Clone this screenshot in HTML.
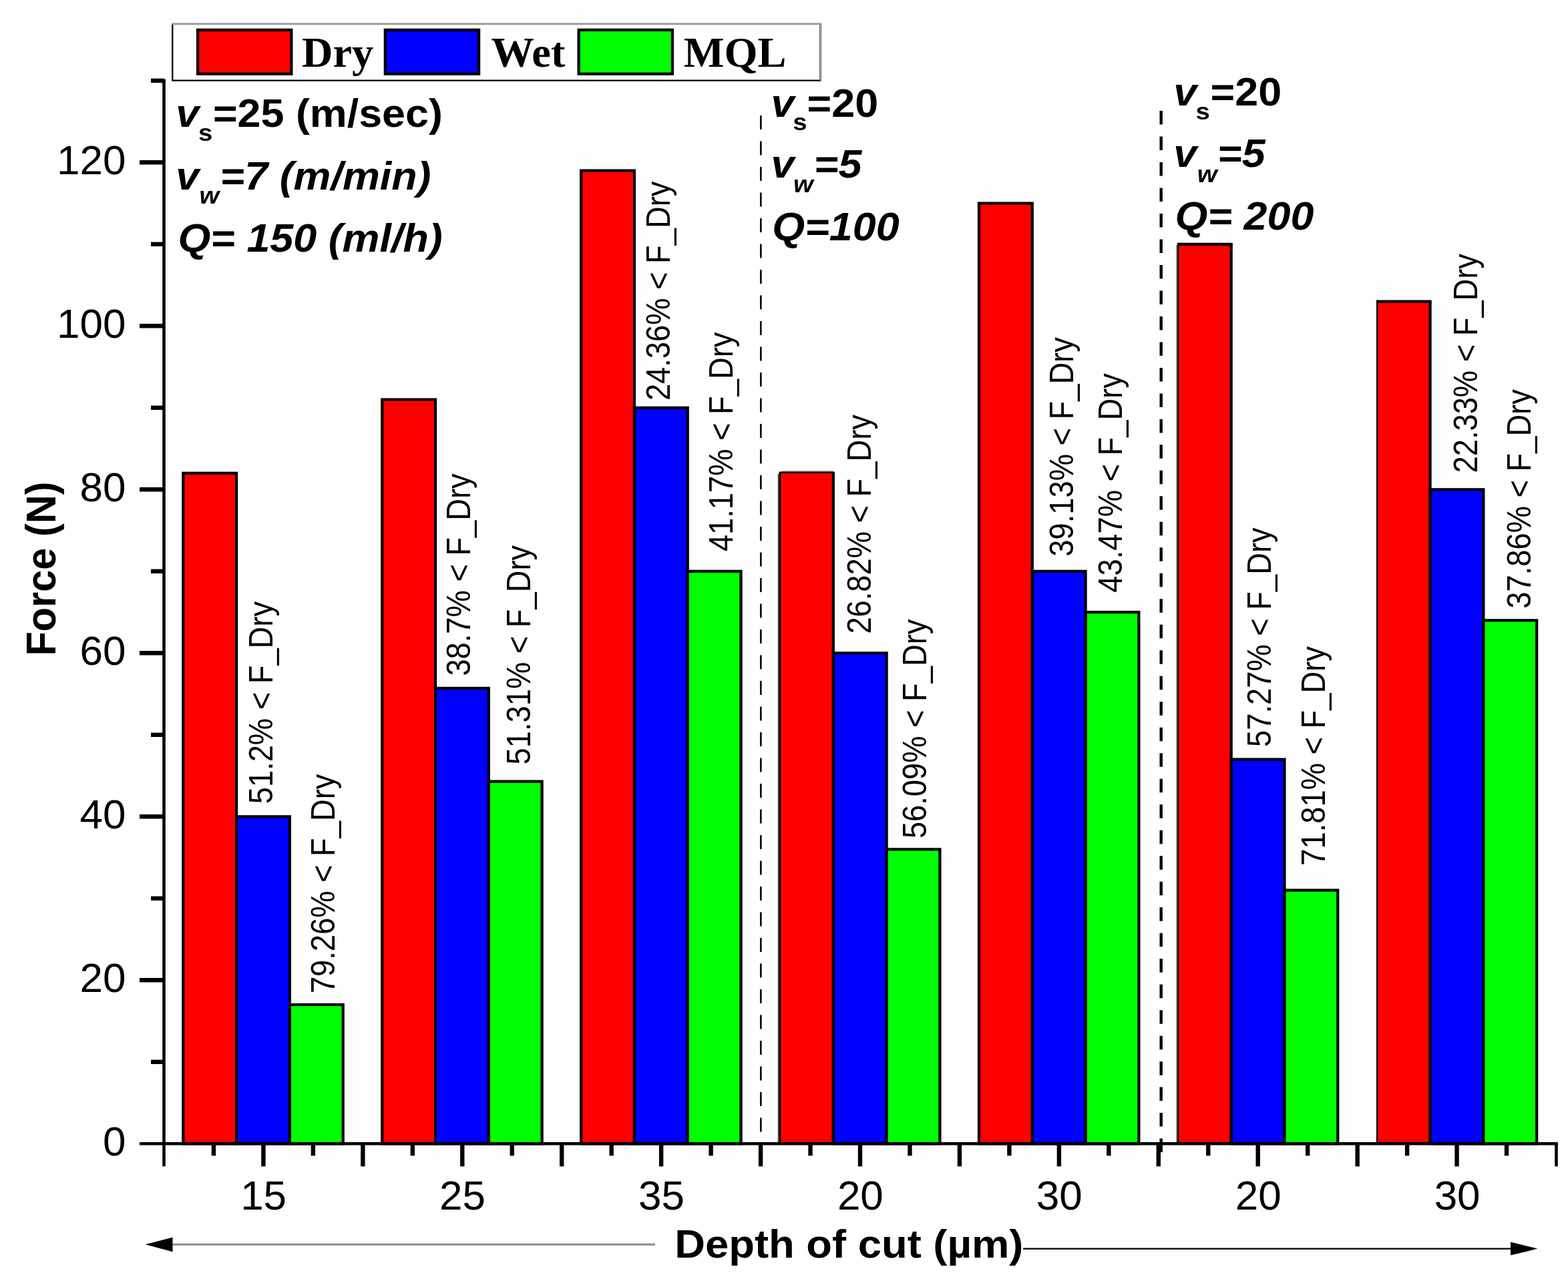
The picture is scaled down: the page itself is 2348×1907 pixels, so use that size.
<!DOCTYPE html>
<html lang="en">
<head>
<meta charset="utf-8">
<title>Force vs depth of cut: Dry, Wet, MQL</title>
<style>
html,body{margin:0;padding:0;background:#fefefe;}
body{width:2348px;height:1907px;overflow:hidden;}
svg text{white-space:pre;}
</style>
</head>
<body>
<svg width="2348" height="1907" viewBox="0 0 2348 1907" style="display:block">
<rect x="0" y="0" width="2348" height="1907" fill="#fefefe"/>
<rect x="274.30" y="708.80" width="79.80" height="1004.50" fill="#ff0000" stroke="#000" stroke-width="4.20"/>
<rect x="354.10" y="1223.30" width="79.80" height="490.00" fill="#0000ff" stroke="#000" stroke-width="4.20"/>
<rect x="433.90" y="1505.05" width="79.80" height="208.25" fill="#00ff00" stroke="#000" stroke-width="4.20"/>
<rect x="572.22" y="598.55" width="79.80" height="1114.75" fill="#ff0000" stroke="#000" stroke-width="4.20"/>
<rect x="652.02" y="1030.97" width="79.80" height="682.33" fill="#0000ff" stroke="#000" stroke-width="4.20"/>
<rect x="731.82" y="1170.62" width="79.80" height="542.67" fill="#00ff00" stroke="#000" stroke-width="4.20"/>
<rect x="870.13" y="255.55" width="79.80" height="1457.75" fill="#ff0000" stroke="#000" stroke-width="4.20"/>
<rect x="949.93" y="610.80" width="79.80" height="1102.50" fill="#0000ff" stroke="#000" stroke-width="4.20"/>
<rect x="1029.73" y="855.80" width="79.80" height="857.50" fill="#00ff00" stroke="#000" stroke-width="4.20"/>
<rect x="1168.00" y="708.80" width="79.85" height="1004.50" fill="#ff0000"/>
<line x1="1165.80" y1="709.80" x2="1165.80" y2="1713.30" stroke="#3a3a44" stroke-width="2"/>
<line x1="1168.00" y1="706.70" x2="1168.00" y2="1713.30" stroke="#000" stroke-width="2.60"/>
<line x1="1170.00" y1="706.20" x2="1247.85" y2="706.20" stroke="#8a8a8a" stroke-width="1.8"/>
<line x1="1166.70" y1="707.90" x2="1249.95" y2="707.90" stroke="#000" stroke-width="2.40"/>
<line x1="1247.85" y1="708.80" x2="1247.85" y2="1713.30" stroke="#000" stroke-width="4.20"/>
<rect x="1247.85" y="978.30" width="79.80" height="735.00" fill="#0000ff" stroke="#000" stroke-width="4.20"/>
<rect x="1327.65" y="1272.30" width="79.80" height="441.00" fill="#00ff00" stroke="#000" stroke-width="4.20"/>
<rect x="1465.97" y="304.55" width="79.80" height="1408.75" fill="#ff0000" stroke="#000" stroke-width="4.20"/>
<rect x="1545.77" y="855.80" width="79.80" height="857.50" fill="#0000ff" stroke="#000" stroke-width="4.20"/>
<rect x="1625.57" y="917.05" width="79.80" height="796.25" fill="#00ff00" stroke="#000" stroke-width="4.20"/>
<rect x="1764.10" y="365.80" width="79.58" height="1347.50" fill="#ff0000"/>
<line x1="1762.05" y1="366.80" x2="1762.05" y2="1713.30" stroke="#8a8a8a" stroke-width="2"/>
<line x1="1764.10" y1="363.70" x2="1764.10" y2="1713.30" stroke="#000" stroke-width="2.30"/>
<line x1="1762.95" y1="365.80" x2="1845.78" y2="365.80" stroke="#000" stroke-width="4.20"/>
<line x1="1843.68" y1="365.80" x2="1843.68" y2="1713.30" stroke="#000" stroke-width="4.20"/>
<rect x="1843.68" y="1137.55" width="79.80" height="575.75" fill="#0000ff" stroke="#000" stroke-width="4.20"/>
<rect x="1923.48" y="1333.55" width="79.80" height="379.75" fill="#00ff00" stroke="#000" stroke-width="4.20"/>
<rect x="2062.20" y="451.55" width="79.40" height="1261.75" fill="#ff0000"/>
<line x1="2062.20" y1="449.45" x2="2062.20" y2="1713.30" stroke="#000" stroke-width="2.40"/>
<line x1="2061.00" y1="451.55" x2="2143.70" y2="451.55" stroke="#000" stroke-width="4.20"/>
<line x1="2141.60" y1="451.55" x2="2141.60" y2="1713.30" stroke="#000" stroke-width="4.20"/>
<rect x="2141.60" y="733.30" width="79.80" height="980.00" fill="#0000ff" stroke="#000" stroke-width="4.20"/>
<rect x="2221.40" y="929.30" width="79.80" height="784.00" fill="#00ff00" stroke="#000" stroke-width="4.20"/>
<line x1="1139.3" y1="173" x2="1139.3" y2="1713.3" stroke="#000" stroke-width="2.6" stroke-dasharray="21 17.5"/>
<line x1="1738.7" y1="166" x2="1738.7" y2="1738.3" stroke="#000" stroke-width="4.4" stroke-dasharray="20.5 17.99"/>
<g stroke="#000" stroke-width="4.60" fill="none">
<line x1="245.50" y1="118.50" x2="245.50" y2="1747.30"/>
<line x1="209.00" y1="1713.30" x2="2332.80" y2="1713.30"/>
<line x1="226.00" y1="1590.80" x2="245.50" y2="1590.80" stroke-width="6.40"/>
<line x1="209.00" y1="1468.30" x2="245.50" y2="1468.30" stroke-width="6.40"/>
<line x1="226.00" y1="1345.80" x2="245.50" y2="1345.80" stroke-width="6.40"/>
<line x1="209.00" y1="1223.30" x2="245.50" y2="1223.30" stroke-width="6.40"/>
<line x1="226.00" y1="1100.80" x2="245.50" y2="1100.80" stroke-width="6.40"/>
<line x1="209.00" y1="978.30" x2="245.50" y2="978.30" stroke-width="6.40"/>
<line x1="226.00" y1="855.80" x2="245.50" y2="855.80" stroke-width="6.40"/>
<line x1="209.00" y1="733.30" x2="245.50" y2="733.30" stroke-width="6.40"/>
<line x1="226.00" y1="610.80" x2="245.50" y2="610.80" stroke-width="6.40"/>
<line x1="209.00" y1="488.30" x2="245.50" y2="488.30" stroke-width="6.40"/>
<line x1="226.00" y1="365.80" x2="245.50" y2="365.80" stroke-width="6.40"/>
<line x1="209.00" y1="243.30" x2="245.50" y2="243.30" stroke-width="6.40"/>
<line x1="226.00" y1="120.80" x2="245.50" y2="120.80" stroke-width="6.40"/>
<line x1="319.96" y1="1713.30" x2="319.96" y2="1731.30" stroke-width="6.40"/>
<line x1="394.43" y1="1713.30" x2="394.43" y2="1747.30" stroke-width="6.40"/>
<line x1="468.89" y1="1713.30" x2="468.89" y2="1731.30" stroke-width="6.40"/>
<line x1="543.36" y1="1713.30" x2="543.36" y2="1747.30" stroke-width="6.40"/>
<line x1="617.82" y1="1713.30" x2="617.82" y2="1731.30" stroke-width="6.40"/>
<line x1="692.29" y1="1713.30" x2="692.29" y2="1747.30" stroke-width="6.40"/>
<line x1="766.75" y1="1713.30" x2="766.75" y2="1731.30" stroke-width="6.40"/>
<line x1="841.21" y1="1713.30" x2="841.21" y2="1747.30" stroke-width="6.40"/>
<line x1="915.68" y1="1713.30" x2="915.68" y2="1731.30" stroke-width="6.40"/>
<line x1="990.14" y1="1713.30" x2="990.14" y2="1747.30" stroke-width="6.40"/>
<line x1="1064.61" y1="1713.30" x2="1064.61" y2="1731.30" stroke-width="6.40"/>
<line x1="1139.07" y1="1713.30" x2="1139.07" y2="1747.30" stroke-width="6.40"/>
<line x1="1213.54" y1="1713.30" x2="1213.54" y2="1731.30" stroke-width="6.40"/>
<line x1="1288.00" y1="1713.30" x2="1288.00" y2="1747.30" stroke-width="6.40"/>
<line x1="1362.46" y1="1713.30" x2="1362.46" y2="1731.30" stroke-width="6.40"/>
<line x1="1436.93" y1="1713.30" x2="1436.93" y2="1747.30" stroke-width="6.40"/>
<line x1="1511.39" y1="1713.30" x2="1511.39" y2="1731.30" stroke-width="6.40"/>
<line x1="1585.86" y1="1713.30" x2="1585.86" y2="1747.30" stroke-width="6.40"/>
<line x1="1660.32" y1="1713.30" x2="1660.32" y2="1731.30" stroke-width="6.40"/>
<line x1="1734.79" y1="1713.30" x2="1734.79" y2="1747.30" stroke-width="6.40"/>
<line x1="1809.25" y1="1713.30" x2="1809.25" y2="1731.30" stroke-width="6.40"/>
<line x1="1883.71" y1="1713.30" x2="1883.71" y2="1747.30" stroke-width="6.40"/>
<line x1="1958.18" y1="1713.30" x2="1958.18" y2="1731.30" stroke-width="6.40"/>
<line x1="2032.64" y1="1713.30" x2="2032.64" y2="1747.30" stroke-width="6.40"/>
<line x1="2107.11" y1="1713.30" x2="2107.11" y2="1731.30" stroke-width="6.40"/>
<line x1="2181.57" y1="1713.30" x2="2181.57" y2="1747.30" stroke-width="6.40"/>
<line x1="2256.04" y1="1713.30" x2="2256.04" y2="1731.30" stroke-width="6.40"/>
<line x1="2330.50" y1="1713.30" x2="2330.50" y2="1747.30" stroke-width="4.60"/>
</g>
<text transform="translate(153.93,1730.50) scale(1.0000,1)" font-family="&quot;Liberation Sans&quot;, Arial, sans-serif" font-size="62.00" fill="#000">0</text>
<text transform="translate(119.46,1485.50) scale(1.0000,1)" font-family="&quot;Liberation Sans&quot;, Arial, sans-serif" font-size="62.00" fill="#000">20</text>
<text transform="translate(119.46,1240.50) scale(1.0000,1)" font-family="&quot;Liberation Sans&quot;, Arial, sans-serif" font-size="62.00" fill="#000">40</text>
<text transform="translate(119.46,995.50) scale(1.0000,1)" font-family="&quot;Liberation Sans&quot;, Arial, sans-serif" font-size="62.00" fill="#000">60</text>
<text transform="translate(119.46,750.50) scale(1.0000,1)" font-family="&quot;Liberation Sans&quot;, Arial, sans-serif" font-size="62.00" fill="#000">80</text>
<text transform="translate(84.98,505.50) scale(1.0000,1)" font-family="&quot;Liberation Sans&quot;, Arial, sans-serif" font-size="62.00" fill="#000">100</text>
<text transform="translate(84.98,260.50) scale(1.0000,1)" font-family="&quot;Liberation Sans&quot;, Arial, sans-serif" font-size="62.00" fill="#000">120</text>
<text transform="translate(360.13,1811.80) scale(1.0000,1)" font-family="&quot;Liberation Sans&quot;, Arial, sans-serif" font-size="62.00" fill="#000">15</text>
<text transform="translate(658.04,1811.80) scale(1.0000,1)" font-family="&quot;Liberation Sans&quot;, Arial, sans-serif" font-size="62.00" fill="#000">25</text>
<text transform="translate(955.96,1811.80) scale(1.0000,1)" font-family="&quot;Liberation Sans&quot;, Arial, sans-serif" font-size="62.00" fill="#000">35</text>
<text transform="translate(1253.88,1811.80) scale(1.0000,1)" font-family="&quot;Liberation Sans&quot;, Arial, sans-serif" font-size="62.00" fill="#000">20</text>
<text transform="translate(1551.79,1811.80) scale(1.0000,1)" font-family="&quot;Liberation Sans&quot;, Arial, sans-serif" font-size="62.00" fill="#000">30</text>
<text transform="translate(1849.71,1811.80) scale(1.0000,1)" font-family="&quot;Liberation Sans&quot;, Arial, sans-serif" font-size="62.00" fill="#000">20</text>
<text transform="translate(2147.63,1811.80) scale(1.0000,1)" font-family="&quot;Liberation Sans&quot;, Arial, sans-serif" font-size="62.00" fill="#000">30</text>
<text transform="translate(82.50,982.57) scale(1.0650,1) rotate(-90)" font-family="&quot;Liberation Sans&quot;, Arial, sans-serif" font-size="59.50" font-weight="bold" fill="#000">Force (N)</text>
<text transform="translate(1010.20,1883.60) scale(1.0650,1)" font-family="&quot;Liberation Sans&quot;, Arial, sans-serif" font-size="59.50" font-weight="bold" fill="#000">Depth of cut (µm)</text>
<line x1="255" y1="1864.3" x2="981" y2="1864.3" stroke="#8c8c8c" stroke-width="3"/>
<polygon points="217.5,1864.3 258.5,1853.5 258.5,1875.2" fill="#000"/>
<line x1="1532" y1="1870.6" x2="2265" y2="1870.6" stroke="#000" stroke-width="2.2"/>
<polygon points="2302.5,1870.6 2262,1860.6 2262,1880.6" fill="#000"/>
<rect x="258.3" y="36" width="970.2" height="84.6" fill="#fefefe" stroke="#000" stroke-width="2.2"/>
<path d="M257.2 35.8 H1229.2 V121" fill="none" stroke="#9a9a9a" stroke-width="2.6"/>
<rect x="296.10" y="44.80" width="140.30" height="65.90" fill="#ff0000" stroke="#000" stroke-width="4.2"/>
<rect x="576.80" y="44.80" width="140.30" height="65.90" fill="#0000ff" stroke="#000" stroke-width="4.2"/>
<rect x="866.60" y="44.80" width="140.30" height="65.90" fill="#00ff00" stroke="#000" stroke-width="4.2"/>
<text transform="translate(452.00,99.60) scale(1.0300,1)" font-family="&quot;Liberation Serif&quot;, &quot;Times New Roman&quot;, serif" font-size="62.50" font-weight="bold" fill="#000">Dry</text>
<text transform="translate(735.50,99.60) scale(1.0300,1)" font-family="&quot;Liberation Serif&quot;, &quot;Times New Roman&quot;, serif" font-size="62.50" font-weight="bold" fill="#000">Wet</text>
<text transform="translate(1023.70,99.60) scale(1.0300,1)" font-family="&quot;Liberation Serif&quot;, &quot;Times New Roman&quot;, serif" font-size="62.50" font-weight="bold" fill="#000">MQL</text>
<text transform="translate(263.30,190.40) scale(1.0650,1)" font-family="&quot;Liberation Sans&quot;, Arial, sans-serif" font-size="59.00" font-weight="bold" font-style="italic" fill="#000">v</text>
<text transform="translate(297.10,211.00) scale(1.0650,1)" font-family="&quot;Liberation Sans&quot;, Arial, sans-serif" font-size="36.00" font-weight="bold" fill="#000">s</text>
<text transform="translate(318.90,190.40) scale(1.0650,1)" font-family="&quot;Liberation Sans&quot;, Arial, sans-serif" font-size="59.00" font-weight="bold" fill="#000">=25 (m/sec)</text>
<text transform="translate(263.30,284.30) scale(1.0650,1)" font-family="&quot;Liberation Sans&quot;, Arial, sans-serif" font-size="59.00" font-weight="bold" font-style="italic" fill="#000">v</text>
<text transform="translate(298.60,304.70) scale(1.0650,1)" font-family="&quot;Liberation Sans&quot;, Arial, sans-serif" font-size="36.00" font-weight="bold" font-style="italic" fill="#000">w</text>
<text transform="translate(329.60,284.30) scale(1.0650,1)" font-family="&quot;Liberation Sans&quot;, Arial, sans-serif" font-size="59.00" font-weight="bold" font-style="italic" fill="#000">=7 (m/min)</text>
<text transform="translate(266.40,376.50) scale(1.0650,1)" font-family="&quot;Liberation Sans&quot;, Arial, sans-serif" font-size="59.00" font-weight="bold" font-style="italic" fill="#000">Q= 150 (ml/h)</text>
<text transform="translate(1154.60,174.50) scale(1.0650,1)" font-family="&quot;Liberation Sans&quot;, Arial, sans-serif" font-size="59.00" font-weight="bold" font-style="italic" fill="#000">v</text>
<text transform="translate(1187.20,194.80) scale(1.0650,1)" font-family="&quot;Liberation Sans&quot;, Arial, sans-serif" font-size="36.00" font-weight="bold" fill="#000">s</text>
<text transform="translate(1208.50,174.50) scale(1.0650,1)" font-family="&quot;Liberation Sans&quot;, Arial, sans-serif" font-size="59.00" font-weight="bold" fill="#000">=20</text>
<text transform="translate(1154.60,266.20) scale(1.0650,1)" font-family="&quot;Liberation Sans&quot;, Arial, sans-serif" font-size="59.00" font-weight="bold" font-style="italic" fill="#000">v</text>
<text transform="translate(1188.10,288.30) scale(1.0650,1)" font-family="&quot;Liberation Sans&quot;, Arial, sans-serif" font-size="36.00" font-weight="bold" font-style="italic" fill="#000">w</text>
<text transform="translate(1218.80,266.20) scale(1.0650,1)" font-family="&quot;Liberation Sans&quot;, Arial, sans-serif" font-size="59.00" font-weight="bold" font-style="italic" fill="#000">=5</text>
<text transform="translate(1156.30,359.70) scale(1.0650,1)" font-family="&quot;Liberation Sans&quot;, Arial, sans-serif" font-size="59.00" font-weight="bold" font-style="italic" fill="#000">Q=100</text>
<text transform="translate(1757.30,158.20) scale(1.0650,1)" font-family="&quot;Liberation Sans&quot;, Arial, sans-serif" font-size="59.00" font-weight="bold" font-style="italic" fill="#000">v</text>
<text transform="translate(1790.50,179.30) scale(1.0650,1)" font-family="&quot;Liberation Sans&quot;, Arial, sans-serif" font-size="36.00" font-weight="bold" fill="#000">s</text>
<text transform="translate(1812.50,158.20) scale(1.0650,1)" font-family="&quot;Liberation Sans&quot;, Arial, sans-serif" font-size="59.00" font-weight="bold" fill="#000">=20</text>
<text transform="translate(1757.30,249.90) scale(1.0650,1)" font-family="&quot;Liberation Sans&quot;, Arial, sans-serif" font-size="59.00" font-weight="bold" font-style="italic" fill="#000">v</text>
<text transform="translate(1792.80,272.50) scale(1.0650,1)" font-family="&quot;Liberation Sans&quot;, Arial, sans-serif" font-size="36.00" font-weight="bold" font-style="italic" fill="#000">w</text>
<text transform="translate(1823.00,249.90) scale(1.0650,1)" font-family="&quot;Liberation Sans&quot;, Arial, sans-serif" font-size="59.00" font-weight="bold" font-style="italic" fill="#000">=5</text>
<text transform="translate(1759.60,343.80) scale(1.0650,1)" font-family="&quot;Liberation Sans&quot;, Arial, sans-serif" font-size="59.00" font-weight="bold" font-style="italic" fill="#000">Q= 200</text>
<text transform="translate(407.80,1204.30) scale(1.1000,1) rotate(-90)" font-family="&quot;Liberation Sans&quot;, Arial, sans-serif" font-size="45.30" fill="#000">51.2% &lt; F_Dry</text>
<text transform="translate(500.80,1488.10) scale(1.1000,1) rotate(-90)" font-family="&quot;Liberation Sans&quot;, Arial, sans-serif" font-size="45.30" fill="#000">79.26% &lt; F_Dry</text>
<text transform="translate(704.30,1012.60) scale(1.1000,1) rotate(-90)" font-family="&quot;Liberation Sans&quot;, Arial, sans-serif" font-size="45.30" fill="#000">38.7% &lt; F_Dry</text>
<text transform="translate(793.60,1145.40) scale(1.1000,1) rotate(-90)" font-family="&quot;Liberation Sans&quot;, Arial, sans-serif" font-size="45.30" fill="#000">51.31% &lt; F_Dry</text>
<text transform="translate(1003.30,600.10) scale(1.1000,1) rotate(-90)" font-family="&quot;Liberation Sans&quot;, Arial, sans-serif" font-size="45.30" fill="#000">24.36% &lt; F_Dry</text>
<text transform="translate(1096.60,826.10) scale(1.1000,1) rotate(-90)" font-family="&quot;Liberation Sans&quot;, Arial, sans-serif" font-size="45.30" fill="#000">41.17% &lt; F_Dry</text>
<text transform="translate(1304.30,949.60) scale(1.1000,1) rotate(-90)" font-family="&quot;Liberation Sans&quot;, Arial, sans-serif" font-size="45.30" fill="#000">26.82% &lt; F_Dry</text>
<text transform="translate(1387.00,1256.10) scale(1.1000,1) rotate(-90)" font-family="&quot;Liberation Sans&quot;, Arial, sans-serif" font-size="45.30" fill="#000">56.09% &lt; F_Dry</text>
<text transform="translate(1606.80,833.70) scale(1.1000,1) rotate(-90)" font-family="&quot;Liberation Sans&quot;, Arial, sans-serif" font-size="45.30" fill="#000">39.13% &lt; F_Dry</text>
<text transform="translate(1680.30,887.70) scale(1.1000,1) rotate(-90)" font-family="&quot;Liberation Sans&quot;, Arial, sans-serif" font-size="45.30" fill="#000">43.47% &lt; F_Dry</text>
<text transform="translate(1902.90,1118.90) scale(1.1000,1) rotate(-90)" font-family="&quot;Liberation Sans&quot;, Arial, sans-serif" font-size="45.30" fill="#000">57.27% &lt; F_Dry</text>
<text transform="translate(1984.00,1296.70) scale(1.1000,1) rotate(-90)" font-family="&quot;Liberation Sans&quot;, Arial, sans-serif" font-size="45.30" fill="#000">71.81% &lt; F_Dry</text>
<text transform="translate(2212.00,708.50) scale(1.1000,1) rotate(-90)" font-family="&quot;Liberation Sans&quot;, Arial, sans-serif" font-size="45.30" fill="#000">22.33% &lt; F_Dry</text>
<text transform="translate(2292.00,911.70) scale(1.1000,1) rotate(-90)" font-family="&quot;Liberation Sans&quot;, Arial, sans-serif" font-size="45.30" fill="#000">37.86% &lt; F_Dry</text>
</svg>
</body>
</html>
